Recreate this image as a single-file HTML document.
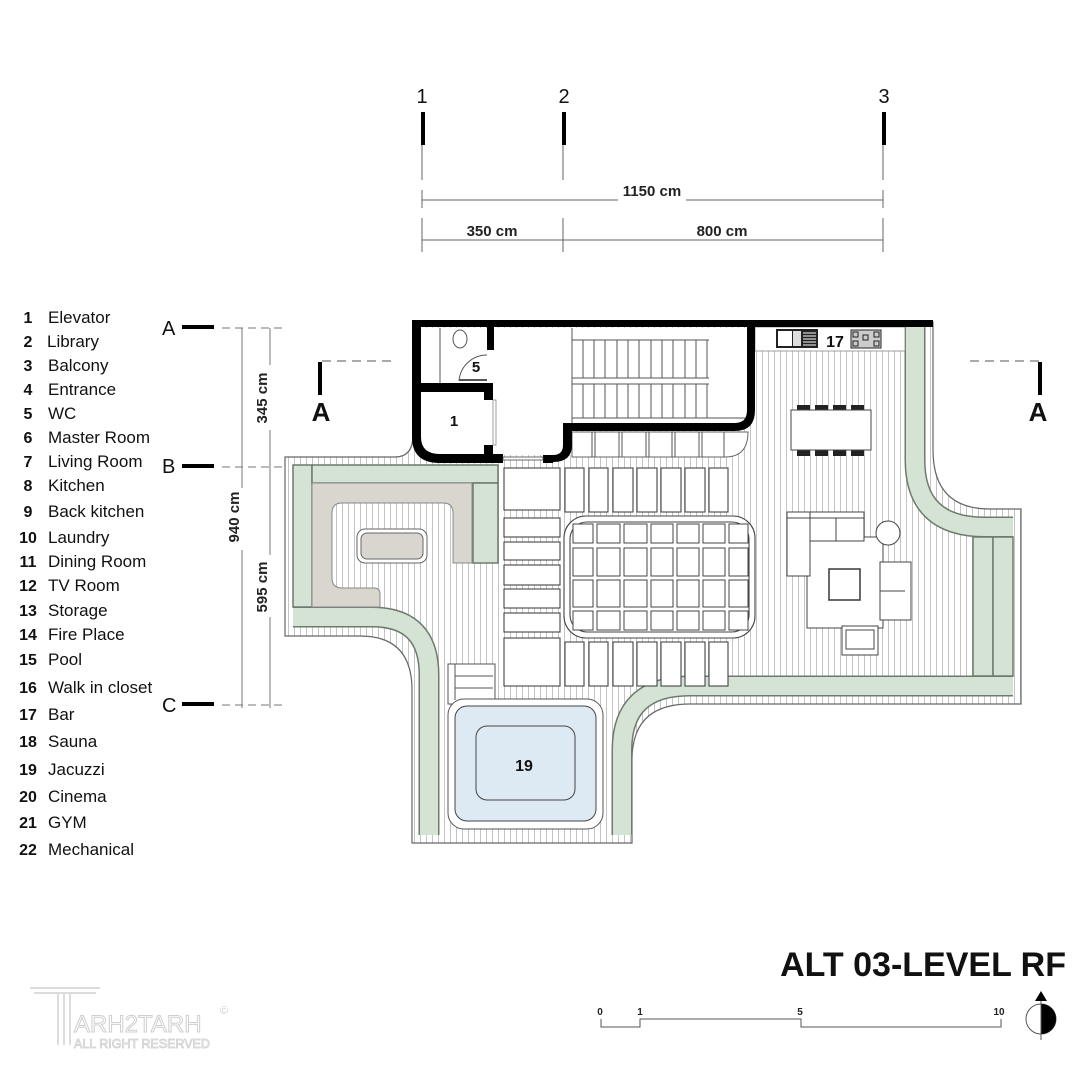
<!DOCTYPE html>
<html><head><meta charset="utf-8"><style>
html,body{margin:0;padding:0;background:#fff;}
svg{display:block;font-family:"Liberation Sans",Arial,sans-serif;}
</style></head><body>
<svg width="1081" height="1080" viewBox="0 0 1081 1080" xmlns="http://www.w3.org/2000/svg">
<defs>
<pattern id="h" width="6" height="10" patternUnits="userSpaceOnUse">
<rect width="6" height="10" fill="#fff"/><line x1="0.5" y1="0" x2="0.5" y2="10" stroke="#c4c4c4" stroke-width="1"/>
</pattern>
</defs>

<g font-size="20" fill="#111" text-anchor="middle">
<text x="422" y="103">1</text><text x="564" y="103">2</text><text x="884" y="103">3</text>
</g>
<g fill="#000"><rect x="421" y="112" width="4" height="33"/><rect x="562" y="112" width="4" height="33"/><rect x="882" y="112" width="4" height="33"/></g>
<g stroke="#666" stroke-width="1">
<line x1="422" y1="145" x2="422" y2="180"/><line x1="563" y1="145" x2="563" y2="180"/><line x1="883" y1="145" x2="883" y2="180"/>
<line x1="422" y1="190" x2="422" y2="208"/><line x1="883" y1="190" x2="883" y2="208"/>
<line x1="422" y1="200" x2="618" y2="200"/><line x1="686" y1="200" x2="883" y2="200"/>
<line x1="422" y1="218" x2="422" y2="252"/><line x1="563" y1="218" x2="563" y2="252"/><line x1="883" y1="218" x2="883" y2="252"/>
<line x1="422" y1="240" x2="883" y2="240"/>
</g>
<g font-size="15" font-weight="bold" fill="#222" text-anchor="middle">
<text x="652" y="196">1150 cm</text><text x="492" y="236">350 cm</text><text x="722" y="236">800 cm</text>
</g>

<g font-size="17" fill="#111">
<g font-weight="bold" text-anchor="middle" font-size="16">
<text x="28" y="323">1</text><text x="28" y="347">2</text><text x="28" y="371">3</text><text x="28" y="395">4</text><text x="28" y="419">5</text><text x="28" y="443">6</text><text x="28" y="467">7</text><text x="28" y="491">8</text><text x="28" y="517">9</text><text x="28" y="543">10</text><text x="28" y="567">11</text><text x="28" y="591">12</text><text x="28" y="616">13</text><text x="28" y="640">14</text><text x="28" y="665">15</text><text x="28" y="693">16</text><text x="28" y="720">17</text><text x="28" y="747">18</text><text x="28" y="775">19</text><text x="28" y="802">20</text><text x="28" y="828">21</text><text x="28" y="855">22</text>
</g>
<text x="48" y="323">Elevator</text><text x="47" y="347">Library</text><text x="48" y="371">Balcony</text><text x="48" y="395">Entrance</text><text x="48" y="419">WC</text><text x="48" y="443">Master Room</text><text x="48" y="467">Living Room</text><text x="48" y="491">Kitchen</text><text x="48" y="517">Back kitchen</text><text x="48" y="543">Laundry</text><text x="48" y="567">Dining Room</text><text x="48" y="591">TV Room</text><text x="48" y="616">Storage</text><text x="48" y="640">Fire Place</text><text x="48" y="665">Pool</text><text x="48" y="693">Walk in closet</text><text x="48" y="720">Bar</text><text x="48" y="747">Sauna</text><text x="48" y="775">Jacuzzi</text><text x="48" y="802">Cinema</text><text x="48" y="828">GYM</text><text x="48" y="855">Mechanical</text>
</g>

<g font-size="20" fill="#111"><text x="162" y="335">A</text><text x="162" y="473">B</text><text x="162" y="712">C</text></g>
<g fill="#000"><rect x="182" y="325" width="32" height="4"/><rect x="182" y="464" width="32" height="4"/><rect x="182" y="702" width="32" height="4"/></g>
<g stroke="#777" stroke-width="1">
<line x1="222" y1="328" x2="282" y2="328" stroke-dasharray="8,5"/>
<line x1="222" y1="467" x2="282" y2="467" stroke-dasharray="8,5"/>
<line x1="222" y1="705" x2="282" y2="705" stroke-dasharray="8,5"/>
<line x1="242" y1="328" x2="242" y2="488"/><line x1="242" y1="550" x2="242" y2="708"/>
<line x1="270" y1="328" x2="270" y2="365"/><line x1="270" y1="430" x2="270" y2="555"/><line x1="270" y1="617" x2="270" y2="708"/>
</g>
<g font-size="15" font-weight="bold" fill="#222" text-anchor="middle">
<text transform="translate(267,398) rotate(-90)">345 cm</text>
<text transform="translate(239,517) rotate(-90)">940 cm</text>
<text transform="translate(267,587) rotate(-90)">595 cm</text>
</g>

<g stroke="#555" stroke-width="1" stroke-dasharray="9,6"><line x1="322" y1="361" x2="392" y2="361"/><line x1="970" y1="361" x2="1040" y2="361"/></g>
<rect x="318" y="362" width="4" height="33" fill="#000"/><rect x="1038" y="362" width="4" height="33" fill="#000"/>
<g font-size="26" font-weight="bold" fill="#111" text-anchor="middle"><text x="321" y="421">A</text><text x="1038" y="421">A</text></g>

<path d="M285,457 H395 Q413,457 413,435 V322 H933 V450 Q933,509 990,509 H1021 V704 H690 Q632,704 632,760 V843 H412 V690 Q412,636 360,636 H285 Z" fill="url(#h)" stroke="#666" stroke-width="1.2"/>

<g fill="#d5e3d5" stroke="#6d7a6d" stroke-width="1.5">
<rect x="293" y="465" width="19" height="142"/>
<rect x="312" y="465" width="186" height="18"/>
<rect x="473" y="483" width="25" height="80"/>
<rect x="973" y="537" width="20" height="139"/>
<rect x="993" y="537" width="20" height="139"/>
</g>
<g fill="none" stroke-linejoin="round">
<path d="M293,617 H372 Q429,617 429,675 V835" stroke="#6d7a6d" stroke-width="21"/>
<path d="M293,617 H372 Q429,617 429,675 V835" stroke="#d5e3d5" stroke-width="18"/>
<path d="M915,327 V460 Q915,527 985,527 H1013" stroke="#6d7a6d" stroke-width="21"/>
<path d="M915,327 V460 Q915,527 985,527 H1013" stroke="#d5e3d5" stroke-width="18"/>
<path d="M1013,686 H690 Q622,686 622,750 V835" stroke="#6d7a6d" stroke-width="21"/>
<path d="M1013,686 H690 Q622,686 622,750 V835" stroke="#d5e3d5" stroke-width="18"/>
</g>

<path d="M312,483 H472 V563 H453 V513 Q453,503 443,503 H342 Q332,503 332,513 V578 Q332,588 342,588 H374 Q380,588 380,594 V607 H312 Z" fill="#d9d6d0" stroke="#888" stroke-width="1"/>
<rect x="357" y="529" width="70" height="34" rx="8" fill="#fff" stroke="#666"/>
<rect x="361" y="533" width="62" height="26" rx="6" fill="#d9d6d0" stroke="#666"/>

<path d="M420,328 H748 V410 Q748,424 735,424 H572 V455 H440 Q420,455 420,437 Z" fill="#fff"/>
<rect x="755" y="327" width="150" height="24" fill="#fff" stroke="#888" stroke-width="0.8"/>
<g stroke="#555" stroke-width="1">
<line x1="572" y1="340" x2="709" y2="340"/>
<line x1="572" y1="378" x2="709" y2="378"/><line x1="572" y1="384" x2="709" y2="384"/>
<line x1="572" y1="418" x2="745" y2="418"/>
<line x1="572" y1="328" x2="572" y2="424"/>
<line x1="583" y1="340" x2="583" y2="378"/><line x1="594" y1="340" x2="594" y2="378"/><line x1="605" y1="340" x2="605" y2="378"/><line x1="617" y1="340" x2="617" y2="378"/><line x1="628" y1="340" x2="628" y2="378"/><line x1="639" y1="340" x2="639" y2="378"/><line x1="651" y1="340" x2="651" y2="378"/><line x1="662" y1="340" x2="662" y2="378"/><line x1="673" y1="340" x2="673" y2="378"/><line x1="685" y1="340" x2="685" y2="378"/><line x1="696" y1="340" x2="696" y2="378"/><line x1="707" y1="340" x2="707" y2="378"/>
<line x1="583" y1="384" x2="583" y2="418"/><line x1="594" y1="384" x2="594" y2="418"/><line x1="605" y1="384" x2="605" y2="418"/><line x1="617" y1="384" x2="617" y2="418"/><line x1="628" y1="384" x2="628" y2="418"/><line x1="639" y1="384" x2="639" y2="418"/><line x1="651" y1="384" x2="651" y2="418"/><line x1="662" y1="384" x2="662" y2="418"/><line x1="673" y1="384" x2="673" y2="418"/><line x1="685" y1="384" x2="685" y2="418"/><line x1="696" y1="384" x2="696" y2="418"/><line x1="707" y1="384" x2="707" y2="418"/>
<line x1="440" y1="328" x2="440" y2="383"/>
</g>
<path d="M572,432 H748 Q748,457 725,457 H572 Z" fill="#fff" stroke="#666"/>
<g stroke="#555" stroke-width="1">
<line x1="592" y1="432" x2="592" y2="457"/><line x1="595" y1="432" x2="595" y2="457"/>
<line x1="619" y1="432" x2="619" y2="457"/><line x1="622" y1="432" x2="622" y2="457"/>
<line x1="646" y1="432" x2="646" y2="457"/><line x1="649" y1="432" x2="649" y2="457"/>
<line x1="672" y1="432" x2="672" y2="457"/><line x1="675" y1="432" x2="675" y2="457"/>
<line x1="699" y1="432" x2="699" y2="457"/><line x1="702" y1="432" x2="702" y2="457"/>
<line x1="724" y1="432" x2="724" y2="457"/>
</g>
<g fill="#000">
<rect x="413" y="320" width="520" height="7"/>
<path d="M412,320 H421 V437 Q421,454 440,454 H503 V463 H440 Q412,463 412,437 Z"/>
<rect x="487" y="327" width="7" height="23"/>
<rect x="421" y="383" width="72" height="9"/>
<rect x="484" y="383" width="9" height="17"/>
<rect x="484" y="445" width="9" height="12"/>
<rect x="543" y="455" width="10" height="8"/>
<path d="M563,423 H735 Q747,423 747,410 V327 H755 V410 Q755,431 735,431 H572 V445 Q572,462 553,462 V455 Q563,455 563,445 Z"/>
</g>
<rect x="503" y="457" width="40" height="3" fill="#fff" stroke="#444" stroke-width="0.8"/>
<rect x="493" y="400" width="3" height="45" fill="#fff" stroke="#888" stroke-width="0.8"/>
<ellipse cx="460" cy="339" rx="7" ry="9" fill="#fff" stroke="#555"/>
<path d="M487,355 A28,28 0 0 0 459,381" fill="none" stroke="#555"/>
<line x1="459" y1="380" x2="487" y2="380" stroke="#555" stroke-width="2"/>
<g font-size="15" font-weight="bold" fill="#111" text-anchor="middle">
<text x="476" y="372">5</text><text x="454" y="426">1</text>
</g>
<rect x="776" y="329" width="42" height="19" fill="#222"/>
<rect x="778" y="331" width="14" height="15" fill="#fff"/>
<rect x="793" y="331" width="8" height="15" fill="#ddd"/>
<g stroke="#fff" stroke-width="1"><line x1="803" y1="333" x2="816" y2="333"/><line x1="803" y1="336" x2="816" y2="336"/><line x1="803" y1="339" x2="816" y2="339"/><line x1="803" y1="342" x2="816" y2="342"/><line x1="803" y1="345" x2="816" y2="345"/></g>
<text x="835" y="347" font-size="16" font-weight="bold" fill="#111" text-anchor="middle">17</text>
<rect x="851" y="330" width="30" height="18" fill="#ccc" stroke="#222"/>
<g fill="none" stroke="#222" stroke-width="1"><rect x="853" y="332" width="5" height="5"/><rect x="874" y="332" width="5" height="5"/><rect x="853" y="341" width="5" height="5"/><rect x="874" y="341" width="5" height="5"/><rect x="863" y="335" width="5" height="5"/></g>

<g fill="#fff" stroke="#444" stroke-width="1.1">
<rect x="504" y="468" width="56" height="42"/>
<rect x="504" y="518" width="56" height="19"/><rect x="504" y="542" width="56" height="18"/><rect x="504" y="565" width="56" height="20"/><rect x="504" y="589" width="56" height="19"/><rect x="504" y="613" width="56" height="19"/>
<rect x="504" y="638" width="56" height="48"/>
<rect x="565" y="468" width="19" height="44"/><rect x="589" y="468" width="19" height="44"/><rect x="613" y="468" width="20" height="44"/><rect x="637" y="468" width="20" height="44"/><rect x="661" y="468" width="20" height="44"/><rect x="685" y="468" width="20" height="44"/><rect x="709" y="468" width="19" height="44"/>
<rect x="565" y="642" width="19" height="44"/><rect x="589" y="642" width="19" height="44"/><rect x="613" y="642" width="20" height="44"/><rect x="637" y="642" width="20" height="44"/><rect x="661" y="642" width="20" height="44"/><rect x="685" y="642" width="20" height="44"/><rect x="709" y="642" width="19" height="44"/>
<rect x="564" y="516" width="191" height="122" rx="22"/>
<rect x="570" y="522" width="179" height="110" rx="17"/>
</g>
<g fill="#fff" stroke="#444" stroke-width="1">
<rect x="573" y="524" width="20" height="19"/><rect x="597" y="524" width="23" height="19"/><rect x="624" y="524" width="23" height="19"/><rect x="651" y="524" width="22" height="19"/><rect x="677" y="524" width="22" height="19"/><rect x="703" y="524" width="22" height="19"/><rect x="729" y="524" width="19" height="19"/>
<rect x="573" y="548" width="20" height="28"/><rect x="597" y="548" width="23" height="28"/><rect x="624" y="548" width="23" height="28"/><rect x="651" y="548" width="22" height="28"/><rect x="677" y="548" width="22" height="28"/><rect x="703" y="548" width="22" height="28"/><rect x="729" y="548" width="19" height="28"/>
<rect x="573" y="580" width="20" height="27"/><rect x="597" y="580" width="23" height="27"/><rect x="624" y="580" width="23" height="27"/><rect x="651" y="580" width="22" height="27"/><rect x="677" y="580" width="22" height="27"/><rect x="703" y="580" width="22" height="27"/><rect x="729" y="580" width="19" height="27"/>
<rect x="573" y="611" width="20" height="19"/><rect x="597" y="611" width="23" height="19"/><rect x="624" y="611" width="23" height="19"/><rect x="651" y="611" width="22" height="19"/><rect x="677" y="611" width="22" height="19"/><rect x="703" y="611" width="22" height="19"/><rect x="729" y="611" width="19" height="19"/>
</g>

<g fill="#222">
<rect x="797" y="405" width="13" height="6"/><rect x="815" y="405" width="13" height="6"/><rect x="833" y="405" width="13" height="6"/><rect x="851" y="405" width="13" height="6"/>
<rect x="797" y="450" width="13" height="6"/><rect x="815" y="450" width="13" height="6"/><rect x="833" y="450" width="13" height="6"/><rect x="851" y="450" width="13" height="6"/>
</g>
<rect x="791" y="410" width="80" height="40" fill="#fff" stroke="#444"/>

<g fill="#fff" stroke="#444" stroke-width="1">
<rect x="807" y="537" width="76" height="91"/>
<rect x="787" y="512" width="77" height="29"/>
<rect x="787" y="512" width="23" height="64"/>
<line x1="787" y1="518" x2="864" y2="518"/>
<line x1="836" y1="518" x2="836" y2="541"/>
<circle cx="888" cy="533" r="12"/>
<rect x="829" y="569" width="31" height="31" stroke-width="1.6"/>
<rect x="880" y="562" width="31" height="58"/>
<line x1="880" y1="591" x2="905" y2="591"/>
<rect x="842" y="626" width="36" height="29"/>
<rect x="846" y="630" width="28" height="19"/>
</g>

<rect x="448" y="664" width="47" height="40" fill="#fff" stroke="#555"/>
<g stroke="#555"><line x1="455" y1="676" x2="493" y2="676"/><line x1="455" y1="688" x2="493" y2="688"/><line x1="455" y1="664" x2="455" y2="700"/></g>
<rect x="448" y="699" width="155" height="130" rx="16" fill="#fff" stroke="#555"/>
<rect x="455" y="706" width="141" height="115" rx="12" fill="#deeaf3" stroke="#444"/>
<rect x="476" y="726" width="99" height="74" rx="11" fill="#deeaf3" stroke="#444"/>
<text x="524" y="771" font-size="16" font-weight="bold" fill="#111" text-anchor="middle">19</text>

<text x="1066" y="976" font-size="34" font-weight="bold" fill="#111" text-anchor="end">ALT 03-LEVEL RF</text>
<g font-size="10" font-weight="bold" fill="#222" text-anchor="middle">
<text x="600" y="1015">0</text><text x="640" y="1015">1</text><text x="800" y="1015">5</text><text x="999" y="1015">10</text>
</g>
<path d="M601,1019 V1027 H640 V1019 H801 V1027 H1001 V1019" fill="none" stroke="#555" stroke-width="1"/>
<circle cx="1041" cy="1019" r="15" fill="#fff" stroke="#555"/>
<path d="M1041,1004 A15,15 0 0 1 1041,1034 Z" fill="#000"/>
<line x1="1041" y1="998" x2="1041" y2="1040" stroke="#555"/>
<path d="M1035,1001 L1041,991 L1047,1001 Z" fill="#000"/>

<g fill="none" stroke="#dcdcdc" stroke-width="2">
<path d="M30,988 H100 M34,993 H96"/>
<path d="M58,993 V1045 M64,993 V1045 M70,993 V1045"/>
</g>
<text x="74" y="1032" font-size="24" fill="#fff" stroke="#cfcfcf" stroke-width="1">ARH2TARH</text>
<text x="74" y="1048" font-size="12.5" fill="#fff" stroke="#cfcfcf" stroke-width="0.8">ALL RIGHT RESERVED</text>
<text x="220" y="1014" font-size="11" fill="#ccc">©</text>
</svg>
</body></html>
